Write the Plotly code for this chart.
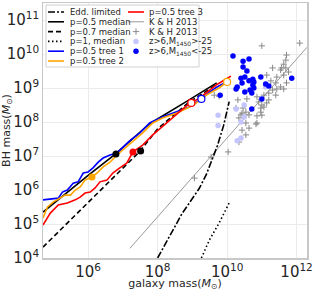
import plotly.graph_objects as go

# ---------------- data (log10 values) ----------------
edd_x = [8.0, 8.4, 8.7, 9.0, 9.2, 9.4, 9.57, 9.72, 9.9, 10.06]
edd_y = [4.0, 4.75, 5.3, 5.75, 6.05, 6.45, 6.88, 7.3, 7.9, 8.6]

med05_x = [4.7, 5.5, 6.0, 6.8, 7.77, 8.86, 9.7]
med05_y = [5.35, 6.02, 6.43, 7.07, 7.95, 8.62, 9.15]

med07_x = [4.7, 5.5, 6.5, 7.5, 8.0, 8.9, 9.7]
med07_y = [4.32, 5.12, 6.15, 7.15, 7.8, 8.58, 9.1]

med1_x = [9.26, 9.49, 9.77, 9.97, 10.09]
med1_y = [4.0, 4.53, 5.03, 5.41, 5.68]

tree1_x = [4.7, 5.14, 5.26, 5.4, 5.57, 5.71, 5.86, 6.0, 6.14, 6.29, 6.43, 6.63, 6.83,
           7.06, 7.2, 7.49, 7.77, 8.14, 8.54, 8.91, 9.26, 9.49, 9.71, 9.97]
tree1_y = [5.71, 5.76, 5.94, 6.0, 6.2, 6.24, 6.5, 6.53, 6.65, 6.82, 6.94, 7.03, 7.09,
           7.32, 7.45, 7.68, 7.97, 8.15, 8.29, 8.44, 8.68, 8.88, 9.03, 9.17]

tree2_x = [4.7, 4.83, 5.0, 5.2, 5.34, 5.49, 5.63, 5.77, 5.91, 6.11, 6.26, 6.43, 6.63,
           6.83, 7.0, 7.2, 7.57, 7.86, 8.14, 8.54, 8.86, 9.1, 9.4, 9.77, 10.0]
tree2_y = [5.18, 5.5, 5.65, 5.76, 5.85, 5.85, 6.0, 6.09, 6.29, 6.38, 6.5, 6.68, 6.82,
           7.03, 7.18, 7.38, 7.68, 7.97, 8.12, 8.26, 8.41, 8.55, 8.79, 9.0, 9.18]

tree3_x = [4.7, 4.91, 5.14, 5.4, 5.63, 5.77, 5.91, 6.06, 6.2, 6.34, 6.54, 6.71, 6.91,
           7.11, 7.29, 7.57, 7.86, 8.26, 8.54, 8.86, 8.97, 9.2, 9.45, 9.69, 9.9, 10.11]
tree3_y = [4.97, 5.32, 5.56, 5.62, 5.71, 5.79, 5.91, 5.94, 6.06, 6.24, 6.29, 6.5, 6.65,
           6.79, 7.12, 7.32, 7.62, 7.97, 8.2, 8.5, 8.56, 8.7, 8.9, 9.09, 9.22, 9.35]

# filled seed dots and open end circles
black_dot_x = [6.8, 7.51]
black_dot_y = [7.06, 7.15]
red_dot_x = [7.29]
red_dot_y = [7.12]
orange_dot_x = [6.11]
orange_dot_y = [6.38]
open_x = [8.97, 9.26, 10.0]
open_y = [8.56, 8.68, 9.18]
open_colors = ["red", "blue", "orange"]

# Kormendy & Ho 2013 relation
kh_x = [7.2, 12.3]
kh_norm, kh_slope = 8.69, 1.16

kh_pts_x = [11.0, 12.09, 11.71, 11.69, 11.63, 11.57, 11.69, 11.54, 11.77, 11.63, 11.43,
            11.26, 11.4, 11.54, 11.71, 11.63, 11.43, 11.31, 11.2, 11.06, 10.86, 10.57,
            10.31, 10.91, 11.0, 11.14, 10.97, 10.46, 10.43, 10.34, 10.86, 10.83, 10.54,
            10.34, 9.63, 9.77, 10.03, 9.54, 9.06, 11.31, 11.14, 11.4, 11.2, 11.06, 10.97,
            11.0, 10.26, 10.4, 10.54, 10.63, 10.54, 10.63, 10.86, 10.43]
kh_pts_y = [10.24, 10.32, 9.97, 9.82, 9.7, 9.59, 9.59, 9.53, 9.47, 9.38, 9.32,
            9.21, 9.15, 9.03, 9.15, 8.97, 8.97, 8.94, 8.85, 8.79, 8.74, 8.68,
            8.65, 8.59, 8.5, 8.56, 8.41, 8.41, 8.26, 8.12, 8.18, 7.94, 7.62,
            7.41, 8.79, 8.76, 7.12, 6.97, 6.35, 9.59, 9.38, 8.79, 8.65, 8.44, 8.29,
            8.2, 8.41, 8.21, 8.29, 8.21, 7.97, 7.82, 7.97, 7.76]

faint_x = [9.74, 9.74, 10.26, 10.49, 10.29, 10.4, 10.4, 11.11, 10.49]
faint_y = [8.2, 7.9, 8.38, 8.5, 7.45, 7.53, 8.0, 9.03, 8.15]

bright_x = [10.17, 10.46, 10.63, 10.46, 10.57, 10.4, 10.51, 10.43, 10.29, 10.26, 10.63,
            10.74, 10.77, 10.74, 10.97, 10.51, 10.66, 10.71, 10.77, 11.11, 11.2, 11.0,
            10.71, 11.86, 9.8]
bright_y = [9.94, 9.79, 9.85, 9.62, 9.5, 9.29, 9.32, 9.15, 9.03, 8.97, 9.21,
            9.26, 9.18, 9.09, 9.32, 8.88, 8.94, 8.85, 9.0, 9.12, 9.06, 8.68,
            8.38, 9.29, 8.79]

# legend labels
legend_col1 = ["Edd. limited", "p=0.5 median", "p=0.7 median", "p=1, median",
               "p=0.5 tree 1", "p=0.5 tree 2"]
legend_col2 = ["p=0.5 tree 3", "K &amp; H 2013", "K &amp; H 2013",
               "z&gt;6,M<sub>1450</sub>&gt;-25", "z&gt;6,M<sub>1450</sub>&lt;-25"]

# ---------------- figure ----------------
def p10(v):
    return [10 ** a for a in v]

FONT = "DejaVu Sans"
TXT = "#262626"
fig = go.Figure()

LW = 1.6
DASHDOT = "7px,2px,2px,2px"
DASHED = "5px,3px"
DOTTED = "1.5px,2.5px"

# background relation and data
fig.add_trace(go.Scatter(x=p10(kh_x), y=p10([kh_norm + kh_slope * (a - 11) for a in kh_x]),
                         mode="lines", line=dict(color="#999999", width=1)))
fig.add_trace(go.Scatter(x=p10(kh_pts_x), y=p10(kh_pts_y), mode="markers",
                         marker=dict(symbol="cross-thin", size=4.5,
                                     line=dict(color="#8a8a8a", width=1))))
fig.add_trace(go.Scatter(x=p10(faint_x), y=p10(faint_y), mode="markers",
                         marker=dict(color="#c4c4ff", size=5.5)))
fig.add_trace(go.Scatter(x=p10(bright_x), y=p10(bright_y), mode="markers",
                         marker=dict(color="#0000ff", size=5.5)))

# model lines
fig.add_trace(go.Scatter(x=p10(edd_x), y=p10(edd_y), mode="lines",
                         line=dict(color="black", width=LW, dash=DASHDOT)))
fig.add_trace(go.Scatter(x=p10(med1_x), y=p10(med1_y), mode="lines",
                         line=dict(color="black", width=LW, dash=DOTTED)))
fig.add_trace(go.Scatter(x=p10(med07_x), y=p10(med07_y), mode="lines",
                         line=dict(color="black", width=LW, dash=DASHED)))
fig.add_trace(go.Scatter(x=p10(med05_x), y=p10(med05_y), mode="lines",
                         line=dict(color="black", width=LW)))
fig.add_trace(go.Scatter(x=p10(tree1_x), y=p10(tree1_y), mode="lines",
                         line=dict(color="blue", width=LW)))
fig.add_trace(go.Scatter(x=p10(tree2_x), y=p10(tree2_y), mode="lines",
                         line=dict(color="orange", width=LW)))
fig.add_trace(go.Scatter(x=p10(tree3_x), y=p10(tree3_y), mode="lines",
                         line=dict(color="red", width=LW)))

fig.add_trace(go.Scatter(x=p10(open_x), y=p10(open_y), mode="markers",
                         marker=dict(color="white", size=7,
                                     line=dict(color=open_colors, width=1.2))))
fig.add_trace(go.Scatter(x=p10(orange_dot_x), y=p10(orange_dot_y), mode="markers",
                         marker=dict(color="orange", size=7)))
fig.add_trace(go.Scatter(x=p10(red_dot_x), y=p10(red_dot_y), mode="markers",
                         marker=dict(color="red", size=7)))
fig.add_trace(go.Scatter(x=p10(black_dot_x), y=p10(black_dot_y), mode="markers",
                         marker=dict(color="black", size=7)))

# ---------------- hand-made legend on an overlay axis in pixel units ----------------
L, R, T, B = 43, 307, 3, 258
row_y = [12, 21.8, 31.6, 41.4, 51.2, 61]
c1_line = (48, 64)
c1_text = 68
c2_line = (128, 144)
c2_text = 147
box_x = [46, 199, 199, 46, 46]
box_y = [5, 5, 67, 67, 5]

fig.add_trace(go.Scatter(x=box_x, y=box_y, xaxis="x2", yaxis="y2", mode="lines",
                         fill="toself", fillcolor="white",
                         line=dict(color="#d0d0d0", width=1)))

col1_styles = [dict(color="black", dash=DASHDOT), dict(color="black"),
               dict(color="black", dash=DASHED), dict(color="black", dash=DOTTED),
               dict(color="blue"), dict(color="orange")]
for lab, yy, st in zip(legend_col1, row_y, col1_styles):
    fig.add_trace(go.Scatter(x=list(c1_line), y=[yy, yy], xaxis="x2", yaxis="y2",
                             mode="lines", line=dict(width=LW, **st)))
    fig.add_annotation(x=c1_text, y=yy, xref="x2", yref="y2", text=lab, showarrow=False,
                       xanchor="left", yanchor="middle", font=dict(size=8.5, color=TXT))

mid = (c2_line[0] + c2_line[1]) / 2
for i, (lab, yy) in enumerate(zip(legend_col2, row_y)):
    if i == 0:
        fig.add_trace(go.Scatter(x=list(c2_line), y=[yy, yy], xaxis="x2", yaxis="y2",
                                 mode="lines", line=dict(color="red", width=LW)))
    elif i == 1:
        fig.add_trace(go.Scatter(x=list(c2_line), y=[yy, yy], xaxis="x2", yaxis="y2",
                                 mode="lines", line=dict(color="#999999", width=1)))
    elif i == 2:
        fig.add_trace(go.Scatter(x=[mid], y=[yy], xaxis="x2", yaxis="y2", mode="markers",
                                 marker=dict(symbol="cross-thin", size=4.5,
                                             line=dict(color="#8a8a8a", width=1))))
    elif i == 3:
        fig.add_trace(go.Scatter(x=[mid], y=[yy], xaxis="x2", yaxis="y2", mode="markers",
                                 marker=dict(color="#c4c4ff", size=5.5)))
    else:
        fig.add_trace(go.Scatter(x=[mid], y=[yy], xaxis="x2", yaxis="y2", mode="markers",
                                 marker=dict(color="#0000ff", size=5.5)))
    fig.add_annotation(x=c2_text, y=yy, xref="x2", yref="y2", text=lab, showarrow=False,
                       xanchor="left", yanchor="middle", font=dict(size=8.5, color=TXT))

axis_common = dict(showgrid=True, gridcolor="#ebebeb", gridwidth=1, zeroline=False,
                   showline=True, linecolor="#c8c8c8", linewidth=1.5, mirror=True,
                   ticks="", exponentformat="power", automargin=False,
                   tickfont=dict(family=FONT, size=12, color=TXT))

fig.update_layout(
    width=313, height=291,
    margin=dict(l=L, r=313 - R, t=T, b=291 - B, autoexpand=False),
    paper_bgcolor="white", plot_bgcolor="white",
    showlegend=False, hovermode=False,
    font=dict(family=FONT, color=TXT),
    xaxis=dict(type="log", range=[4.7, 12.3], dtick=2, **axis_common,
               title=dict(text="galaxy mass(<i>M</i><sub>⊙</sub>)",
                          font=dict(family=FONT, size=11, color=TXT), standoff=4)),
    yaxis=dict(type="log", range=[4, 11.5], dtick=1, **axis_common,
               title=dict(text="BH mass(<i>M</i><sub>⊙</sub>)",
                          font=dict(family=FONT, size=11, color=TXT), standoff=1)),
    xaxis2=dict(overlaying="x", anchor="y2", range=[L, R], visible=False, fixedrange=True),
    yaxis2=dict(overlaying="y", anchor="x2", range=[B, T], visible=False, fixedrange=True),
)

fig.write_html("out.html", config={"displayModeBar": False, "staticPlot": True},
               post_script="document.body.style.margin='0';document.body.style.padding='0';")
